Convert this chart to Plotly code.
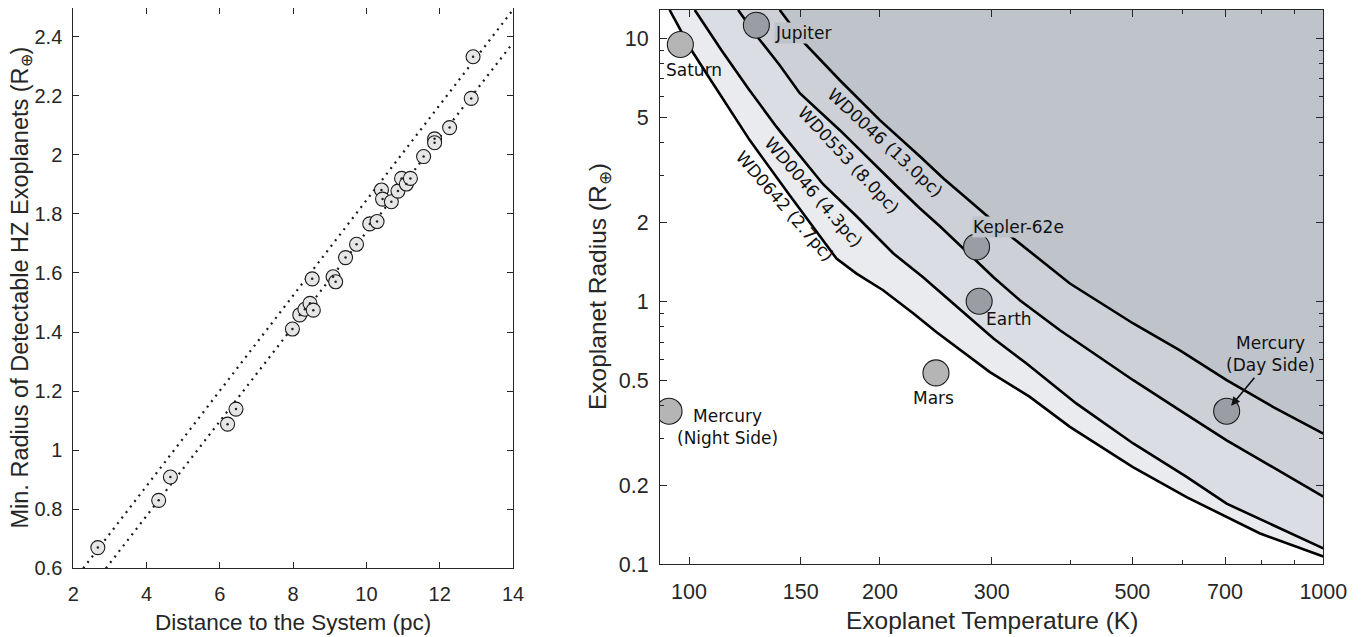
import numpy as np
import plotly.graph_objects as go

# ---------------- Left panel data ----------------
dist_pc = [2.67, 4.33, 4.65, 6.21, 6.44, 7.98, 8.18, 8.32, 8.46, 8.55, 8.52, 9.09, 9.16,
           9.43, 9.73, 10.09, 10.29, 10.41, 10.44, 10.68, 10.86, 10.96, 11.09, 11.20,
           11.56, 11.86, 11.86, 12.27, 12.86, 12.91]
min_radius = [0.670, 0.830, 0.909, 1.088, 1.139, 1.410, 1.458, 1.477, 1.497, 1.474, 1.580,
              1.587, 1.570, 1.652, 1.697, 1.766, 1.774, 1.881, 1.850, 1.841, 1.877, 1.920,
              1.901, 1.920, 1.994, 2.054, 2.041, 2.092, 2.191, 2.332]
upper_fit_x = [2.27, 14.0]
upper_fit_y = [0.60, 2.491]
lower_fit_x = [2.89, 14.0]
lower_fit_y = [0.60, 2.379]

left_xticks = [2, 4, 6, 8, 10, 12, 14]
left_yticks = [0.6, 0.8, 1.0, 1.2, 1.4, 1.6, 1.8, 2.0, 2.2, 2.4]
left_yticktext = ["0.6", "0.8", "1", "1.2", "1.4", "1.6", "1.8", "2", "2.2", "2.4"]
LEFT_X_RANGE = [2, 14]
LEFT_Y_RANGE = [0.6, 2.497]

# ---------------- Right panel data ----------------
wd0642_T = [93.2, 100.9, 107.8, 124.7, 144.1, 170.8, 183.7, 202.3, 225.6, 245.7, 298.1,
            344.6, 398.6, 501.0, 608.8, 794.9, 1000]
wd0642_R = [12.8, 9.00, 7.03, 4.09, 2.53, 1.453, 1.274, 1.101, 0.900, 0.762, 0.538,
            0.433, 0.333, 0.234, 0.180, 0.131, 0.107]

wd0046a_T = [102.1, 112.5, 123.9, 137.4, 144.1, 162.7, 183.7, 209.8, 233.9, 248.6, 267.3,
             301.7, 340.5, 408.3, 501.6, 608.8, 704.1, 1000]
wd0046a_R = [12.8, 9.00, 6.45, 4.60, 3.99, 2.786, 2.105, 1.522, 1.234, 1.082, 0.932,
             0.723, 0.580, 0.408, 0.288, 0.215, 0.170, 0.115]

wd0553_T = [119.5, 128.3, 139.0, 149.5, 172.9, 190.0, 213.4, 231.1, 248.6, 301.7, 332.3,
            384.4, 501.6, 594.2, 704.1, 1000]
wd0553_R = [12.8, 10.09, 7.89, 6.18, 4.47, 3.56, 2.713, 2.257, 1.929, 1.237, 1.009,
            0.776, 0.501, 0.385, 0.296, 0.181]

wd0046b_T = [139.0, 152.2, 172.9, 199.9, 231.1, 251.6, 273.9, 298.1, 322.5, 398.6, 501.6,
             594.2, 704.1, 834.0, 1000]
wd0046b_R = [12.8, 9.55, 6.92, 4.88, 3.558, 2.935, 2.464, 2.063, 1.756, 1.168, 0.823,
             0.651, 0.501, 0.396, 0.314]

curve_names = ["WD0642 (2.7pc)", "WD0046 (4.3pc)", "WD0553 (8.0pc)", "WD0046 (13.0pc)"]
label_T = [141.5, 157.0, 178.5, 204.0]

planet_names = ["Saturn", "Jupiter", "Kepler-62e", "Earth", "Mars",
                "Mercury<br>(Night Side)", "Mercury<br>(Day Side)"]
planet_T = [96.9, 127.7, 284.0, 286.7, 245.1, 93.0, 704.1]
planet_R = [9.46, 11.2, 1.609, 1.0, 0.534, 0.382, 0.382]

right_xticks = [100, 150, 200, 300, 500, 700, 1000]
right_xminor = [400, 600, 800, 900]
right_yticks = [0.1, 0.2, 0.5, 1, 2, 5, 10]
right_yticktext = ["0.1", "0.2", "0.5", "1", "2", "5", "10"]
right_yminor = [0.3, 0.4, 0.6, 0.7, 0.8, 0.9, 3, 4, 6, 7, 8, 9]

T_RANGE = [90, 1000]
R_RANGE = [0.1, 12.8]

# ---------------- Styles / layout geometry ----------------
AX = "#262626"
band_colors = ["#e9ebef", "#dadde3", "#cdd0d6", "#bfc3ca"]
planet_fill = ["#b5b5b5", "#9b9da5", "#9b9da5", "#9b9da5", "#b5b5b5", "#b5b5b5", "#9b9da5"]
label_shift = [(14, -25), (47, -8), (42, 20), (30, -18), (-2, -25), (58, -16), (44, 57)]
label_bg = [None, band_colors[3], band_colors[3], None, None, None, None]
curve_label_shift = [-18, -20, -21, -18]
curve_label_angle = [49, 49, 47, 43]

SANS = "Liberation Sans, Arial, sans-serif"
TICKFONT_L = dict(family=SANS, size=20, color=AX)
TITLEFONT_L = dict(family=SANS, size=22.5, color=AX)
TITLEFONT_LY = dict(family=SANS, size=23.5, color=AX)
TICKFONT_R = dict(family=SANS, size=21.5, color=AX)
TITLEFONT_R = dict(family=SANS, size=24.5, color=AX)
LABELFONT = dict(family="DejaVu Sans, sans-serif", size=17, color="#111111")

PAGE_OFF = 8          # page body margin in the browser
W, H = 1354, 629      # figure size so that it fills the 1362x637 window


def px(xp):
    return min(max((xp - PAGE_OFF) / W, 0.0), 1.0)


def py(yp):
    return min(max(1 - (yp - PAGE_OFF) / H, 0.0), 1.0)


fig = go.Figure()

# ---------- Left panel ----------
for fx, fy in [(upper_fit_x, upper_fit_y), (lower_fit_x, lower_fit_y)]:
    fig.add_trace(go.Scatter(x=fx, y=fy, mode="lines", xaxis="x", yaxis="y",
                             line=dict(color="#1a1a1a", width=2.2, dash="2px,5px"),
                             showlegend=False, hoverinfo="skip"))
fig.add_trace(go.Scatter(x=dist_pc, y=min_radius, mode="markers", xaxis="x", yaxis="y",
                         marker=dict(size=14, color="#e6e6e6",
                                     line=dict(color="#1a1a1a", width=1.1)),
                         showlegend=False))
fig.add_trace(go.Scatter(x=dist_pc, y=min_radius, mode="markers", xaxis="x", yaxis="y",
                         marker=dict(size=2.5, color="#222222"),
                         showlegend=False, hoverinfo="skip"))

# ---------- Right panel: shaded bands ----------
curves = [(wd0642_T, wd0642_R), (wd0046a_T, wd0046a_R),
          (wd0553_T, wd0553_R), (wd0046b_T, wd0046b_R)]
for i, (cT, cR) in enumerate(curves):
    fig.add_trace(go.Scatter(x=cT, y=cR, mode="lines", xaxis="x2", yaxis="y2",
                             line=dict(width=0, color="rgba(0,0,0,0)"),
                             fill=None if i == 0 else "tonexty",
                             fillcolor=band_colors[i - 1] if i > 0 else None,
                             showlegend=False, hoverinfo="skip"))
fig.add_trace(go.Scatter(x=list(wd0046b_T) + [T_RANGE[1]], y=list(wd0046b_R) + [R_RANGE[1]],
                         mode="lines", xaxis="x2", yaxis="y2", fill="toself",
                         fillcolor=band_colors[3], line=dict(width=0, color="rgba(0,0,0,0)"),
                         showlegend=False, hoverinfo="skip"))
for cT, cR in curves:
    fig.add_trace(go.Scatter(x=cT, y=cR, mode="lines", xaxis="x2", yaxis="y2",
                             line=dict(color="#000000", width=2.6),
                             showlegend=False, hoverinfo="skip"))

fig.add_trace(go.Scatter(x=planet_T, y=planet_R, mode="markers", xaxis="x2", yaxis="y2",
                         marker=dict(size=26, color=planet_fill,
                                     line=dict(color="#1a1a1a", width=1.1)),
                         showlegend=False))

annotations = []
# planet labels
for name, T, R, (dx, dy), bg in zip(planet_names, planet_T, planet_R, label_shift, label_bg):
    ann = dict(x=np.log10(T), y=np.log10(R), xref="x2", yref="y2", text=name,
               showarrow=False, xshift=dx, yshift=dy, font=LABELFONT,
               xanchor="center", yanchor="middle", align="center", borderpad=0)
    if bg:
        ann["bgcolor"] = bg
    annotations.append(ann)
# arrow to Mercury day side
annotations.append(dict(x=np.log10(planet_T[6]), y=np.log10(planet_R[6]), xref="x2", yref="y2",
                        ax=29, ay=-35, axref="pixel", ayref="pixel", text="", showarrow=True,
                        arrowhead=2, arrowsize=1.1, arrowwidth=1.6, arrowcolor="#111111",
                        standoff=7))
# curve labels (placed just below each curve)
for (cT, cR), name, lt, dy, ang in zip(curves, curve_names, label_T, curve_label_shift,
                                       curve_label_angle):
    lr = np.interp(np.log10(lt), np.log10(cT), np.log10(cR))
    annotations.append(dict(x=np.log10(lt), y=lr, xref="x2", yref="y2", text=name,
                            showarrow=False, yshift=dy, textangle=ang, font=LABELFONT,
                            xanchor="center", yanchor="middle"))

# axis titles
annotations += [
    dict(x=px(293), y=py(622), xref="paper", yref="paper", showarrow=False,
         xanchor="center", yanchor="middle",
         text="Distance to the System (pc)", font=TITLEFONT_L),
    dict(x=px(21), y=py(287.5), xref="paper", yref="paper", showarrow=False,
         xanchor="center", yanchor="middle",
         text="Min. Radius of Detectable HZ Exoplanets (R<sub>⊕</sub>)", textangle=-90,
         font=TITLEFONT_LY),
    dict(x=px(992), y=py(620), xref="paper", yref="paper", showarrow=False,
         xanchor="center", yanchor="middle",
         text="Exoplanet Temperature (K)", font=TITLEFONT_R),
    dict(x=px(600), y=py(287), xref="paper", yref="paper", showarrow=False,
         xanchor="center", yanchor="middle",
         text="Exoplanet Radius (R<sub>⊕</sub>)", textangle=-90, font=TITLEFONT_R),
]

common = dict(showgrid=False, zeroline=False, showline=True, linecolor=AX, linewidth=1,
              mirror="ticks", ticks="inside", tickcolor=AX, tickwidth=1, automargin=False)

fig.update_layout(
    template="none",
    width=W, height=H, autosize=False,
    margin=dict(l=0, r=0, t=0, b=0, pad=0),
    paper_bgcolor="white", plot_bgcolor="white",
    showlegend=False,
    xaxis=dict(domain=[px(73.3), px(513)], range=LEFT_X_RANGE, anchor="y",
               tickvals=left_xticks, ticklen=6, tickfont=TICKFONT_L,
               ticklabelstandoff=8, **common),
    yaxis=dict(domain=[py(568.3), py(8)], range=LEFT_Y_RANGE, anchor="x",
               tickvals=left_yticks, ticktext=left_yticktext, ticklen=6,
               tickfont=TICKFONT_L, ticklabelstandoff=6, **common),
    xaxis2=dict(domain=[px(660), px(1323.3)], type="log",
                range=[np.log10(T_RANGE[0]), np.log10(T_RANGE[1])], anchor="y2",
                tickvals=right_xticks, ticktext=[str(v) for v in right_xticks],
                ticklen=7, tickfont=TICKFONT_R, ticklabelstandoff=8,
                minor=dict(tickvals=right_xminor, ticklen=4, ticks="inside",
                           tickcolor=AX),
                **common),
    yaxis2=dict(domain=[py(564.3), py(10)], type="log",
                range=[np.log10(R_RANGE[0]), np.log10(R_RANGE[1])], anchor="x2",
                tickvals=right_yticks, ticktext=right_yticktext, ticklen=7,
                tickfont=TICKFONT_R, ticklabelstandoff=6,
                minor=dict(tickvals=right_yminor, ticklen=4, ticks="inside",
                           tickcolor=AX),
                **common),
    annotations=annotations,
)

fig.write_html("out.html")
